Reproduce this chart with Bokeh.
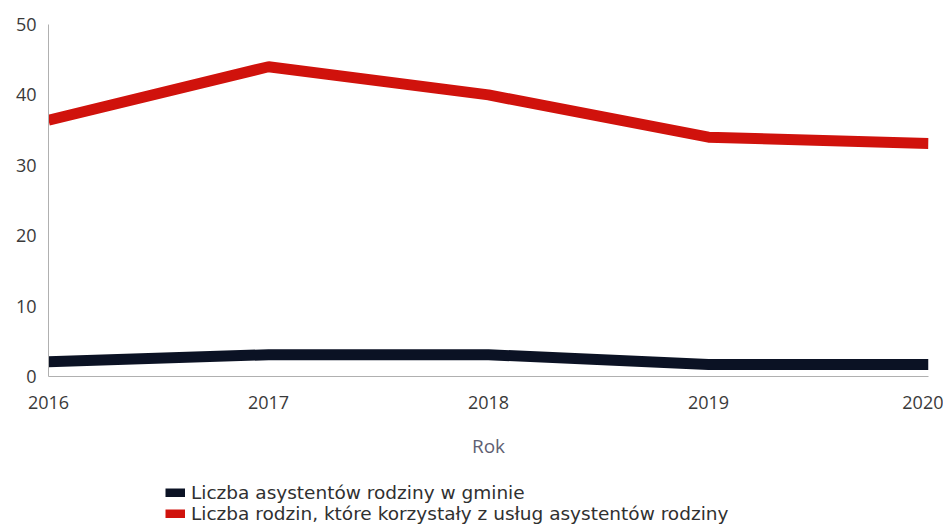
from bokeh.plotting import figure
from bokeh.models import Range1d, Legend, LegendItem, FixedTicker
from bokeh.layouts import column
from bokeh.embed import file_html
from bokeh.resources import INLINE

years = [2016, 2017, 2018, 2019, 2020]
asystenci = [2.1, 3.1, 3.1, 1.7, 1.7]
rodziny = [36.4, 44.0, 40.0, 34.0, 33.1]
y_ticks = [0, 10, 20, 30, 40, 50]
labels = ["Liczba asystentów rodziny w gminie",
          "Liczba rodzin, które korzystały z usług asystentów rodziny"]
colors = ["#0b1224", "#d0120c"]

p = figure(width=943, height=461, output_backend="svg", toolbar_location=None,
           x_range=Range1d(2016, 2020), y_range=Range1d(0, 50),
           min_border_left=48, min_border_right=15, min_border_top=24, min_border_bottom=84)
p.outline_line_color = None
p.grid.grid_line_color = None

p.line(years, asystenci, line_color=colors[0], line_width=11)
p.line(years, rodziny, line_color=colors[1], line_width=11)

font = "Open Sans"
p.yaxis.ticker = FixedTicker(ticks=y_ticks)
p.xaxis.ticker = FixedTicker(ticks=years)
for ax in (p.xaxis[0], p.yaxis[0]):
    ax.axis_line_color = "#b0b0b0"
    ax.axis_line_width = 1
    ax.major_tick_line_color = None
    ax.minor_tick_line_color = None
    ax.major_tick_out = 0
    ax.major_label_text_font = font
    ax.major_label_text_font_size = "18px"
    ax.major_label_text_color = "#3a3a3a"
p.yaxis.major_label_standoff = 12
p.xaxis.major_label_standoff = 19
p.xaxis.axis_label = "Rok"
p.xaxis.axis_label_text_font = font
p.xaxis.axis_label_text_font_style = "normal"
p.xaxis.axis_label_text_font_size = "19px"
p.xaxis.axis_label_text_color = "#5f5f72"
p.xaxis.axis_label_standoff = 21

# legend panel (series drawn outside its visible range, only the legend shows)
lf = figure(width=943, height=68, output_backend="svg", toolbar_location=None,
            x_range=Range1d(0, 1), y_range=Range1d(0, 1),
            x_axis_location=None, y_axis_location=None,
            min_border_left=0, min_border_right=0, min_border_top=0, min_border_bottom=0)
lf.grid.grid_line_color = None
lf.outline_line_color = None
d1 = lf.line(years, asystenci, line_color=colors[0], line_width=9)
d2 = lf.line(years, rodziny, line_color=colors[1], line_width=9)
legend = Legend(items=[LegendItem(label=labels[0], renderers=[d1]),
                       LegendItem(label=labels[1], renderers=[d2])],
                location=(117, 5), orientation="vertical",
                glyph_width=20, glyph_height=9, label_text_font="DejaVu Sans",
                label_text_font_size="18.5px", label_text_color="#303030",
                spacing=0, label_height=21, padding=0,
                border_line_color=None, background_fill_alpha=0,
                label_standoff=6)
legend.margin = 0
lf.add_layout(legend, "center")

layout = column(p, lf, spacing=0)
open("out.html", "w").write(file_html(layout, INLINE))
